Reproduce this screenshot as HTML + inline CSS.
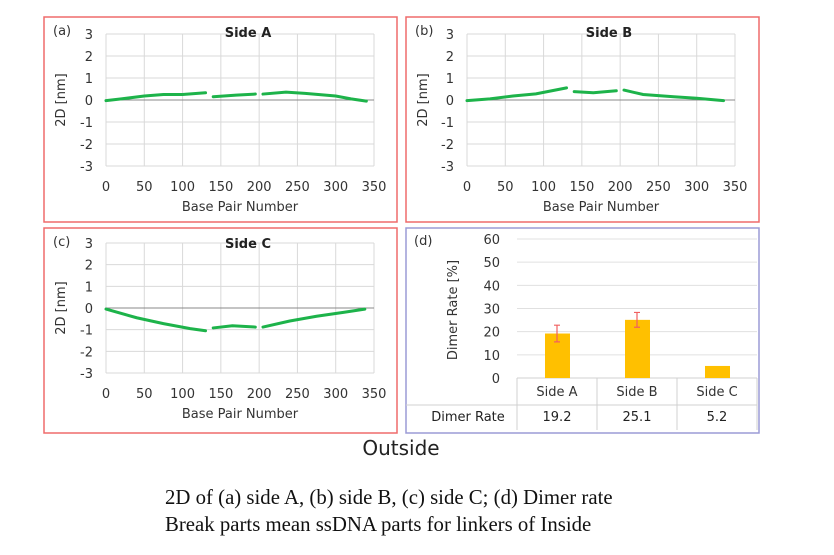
<!DOCTYPE html>
<html><head><meta charset="utf-8"><style>
body{margin:0;background:#fff;width:834px;height:550px;overflow:hidden}
svg text{font-family:"DejaVu Sans","Liberation Sans",sans-serif}
</style></head><body>
<svg id="s" width="834" height="550" xmlns="http://www.w3.org/2000/svg">
<text x="401" y="455" font-size="20" text-anchor="middle" fill="#222">Outside</text>
<text x="165" y="504" font-size="20.8" style="font-family:'Liberation Serif',serif" fill="#111">2D of (a) side A, (b) side B, (c) side C; (d) Dimer rate</text>
<text x="165" y="531" font-size="20.8" style="font-family:'Liberation Serif',serif" fill="#111">Break parts mean ssDNA parts for linkers of Inside</text>
</svg>
<script>
const xTicks=[0,50,100,150,200,250,300,350];
const yTicks=[3,2,1,0,-1,-2,-3];
const sideA=[[[0,-0.03],[20,0.05],[50,0.18],[75,0.25],[100,0.25],[130,0.33]],[[140,0.15],[170,0.22],[195,0.27]],[[205,0.27],[235,0.36],[260,0.3],[300,0.18],[320,0.05],[340,-0.05]]];
const sideB=[[[0,-0.03],[30,0.05],[60,0.18],[90,0.28],[115,0.45],[130,0.55]],[[140,0.38],[165,0.33],[195,0.42]],[[205,0.45],[230,0.25],[270,0.15],[300,0.08],[335,-0.03]]];
const sideC=[[[0,-0.05],[40,-0.45],[75,-0.72],[110,-0.95],[130,-1.05]],[[140,-0.92],[165,-0.82],[195,-0.88]],[[205,-0.88],[240,-0.6],[275,-0.38],[310,-0.2],[338,-0.05]]];
const barCats=["Side A","Side B","Side C"];
const barVals=[19.2,25.1,5.2];
const barErr=[3.6,3.2,0];
const barTicks=[0,10,20,30,40,50,60];
const NS="http://www.w3.org/2000/svg",S=document.getElementById('s');
function el(t,a,p){const e=document.createElementNS(NS,t);for(const k in a)e.setAttribute(k,a[k]);(p||S).appendChild(e);return e;}
function txt(x,y,s,a,p){const e=el('text',Object.assign({x:x,y:y},a),p);e.textContent=s;return e;}
function linePanel(name,bx,by,label,title,x0,x1,yTop,yBot,data){
 const g=el('g',{});
 const r=el('rect',{x:bx,y:by,width:353,height:205,fill:'none',stroke:'#ef6b6b','stroke-width':1.5},g);
 
 const X=v=>x0+(v/350)*(x1-x0), Y=v=>yTop+(3-v)/6*(yBot-yTop);
 xTicks.forEach(t=>{const l=el('line',{x1:X(t),x2:X(t),y1:yTop,y2:yBot,stroke:'#d9d9d9'},g);
  const tt=txt(X(t),yBot+25,t,{'font-size':13,'text-anchor':'middle',fill:'#333'},g);});
 yTicks.forEach(t=>{const l=el('line',{x1:x0,x2:x1,y1:Y(t),y2:Y(t),stroke:t==0?'#888':'#d9d9d9'},g);
  const tt=txt(x0-13,Y(t)+5,t,{'font-size':13,'text-anchor':'end',fill:'#333'},g);});
 const lb=txt(bx+9,by+18,label,{'font-size':13,fill:'#333'},g);
 const ti=txt((x0+x1)/2+8,by+20,title,{'font-size':13,'font-weight':'bold','text-anchor':'middle',fill:'#222'},g);
 const xt=txt((x0+x1)/2,yBot+45,'Base Pair Number',{'font-size':13,'text-anchor':'middle',fill:'#333'},g);
 const cy=(yTop+yBot)/2;const yt=txt(bx+21,cy,'2D [nm]',{'font-size':13,'text-anchor':'middle',fill:'#333',transform:`rotate(-90 ${bx+21} ${cy})`},g);
 data.forEach(seg=>{const p=el('polyline',{points:seg.map(d=>X(d[0])+','+Y(d[1])).join(' '),fill:'none',stroke:'#1db34a','stroke-width':3,'stroke-linecap':'round'},g);});
}
linePanel('panel-a-side-a',44,17,'(a)','Side A',106,374,34,166,sideA);
linePanel('panel-b-side-b',406,17,'(b)','Side B',467,735,34,166,sideB);
linePanel('panel-c-side-c',44,228,'(c)','Side C',106,374,243,373,sideC);
const g=el('g',{});
const br=el('rect',{x:406,y:228,width:353,height:205,fill:'none',stroke:'#9b9bd6','stroke-width':1.5},g);
const px0=517,px1=757,pyT=239,pyB=378,Yb=v=>pyB-v/60*(pyB-pyT),cw=(px1-px0)/barCats.length;
barTicks.forEach(t=>{const l=el('line',{x1:px0,x2:px1,y1:Yb(t),y2:Yb(t),stroke:'#e0e0e0'},g);
 const tt=txt(500,Yb(t)+5,t,{'font-size':13,'text-anchor':'end',fill:'#333'},g);});
const dl=txt(414,245,'(d)',{'font-size':13,fill:'#333'},g);
const yt=txt(457,310,'Dimer Rate [%]',{'font-size':13,'text-anchor':'middle',fill:'#333',transform:'rotate(-90 457 310)'},g);
[[px0,pyB,px1,pyB],[px0,pyB,px0,430],[px0+cw,pyB,px0+cw,430],[px0+2*cw,pyB,px0+2*cw,430],[px1,pyB,px1,430],[406,405,px1,405]].forEach(c=>{const l=el('line',{x1:c[0],y1:c[1],x2:c[2],y2:c[3],stroke:'#d0d0d0'},g);});
const rh=txt(468,421,'Dimer Rate',{'font-size':13,'text-anchor':'middle',fill:'#222'},g);
barCats.forEach((c,i)=>{const cx=px0+cw*(i+0.5);
 const b=el('rect',{x:cx-12,y:Yb(barVals[i]),width:25,height:pyB-Yb(barVals[i]),fill:'#ffc000'},g);
 if(barErr[i]>0){const e=el('path',{d:`M${cx},${Yb(barVals[i]+barErr[i])}V${Yb(barVals[i]-barErr[i])}M${cx-3},${Yb(barVals[i]+barErr[i])}h6M${cx-3},${Yb(barVals[i]-barErr[i])}h6`,stroke:'#f06060','stroke-width':1.2,fill:'none'},g);}
 const ct=txt(cx,396,c,{'font-size':13,'text-anchor':'middle',fill:'#333'},g);
 const vt=txt(cx,421,barVals[i].toFixed(1),{'font-size':13,'text-anchor':'middle',fill:'#222'},g);
});
</script>
</body></html>
